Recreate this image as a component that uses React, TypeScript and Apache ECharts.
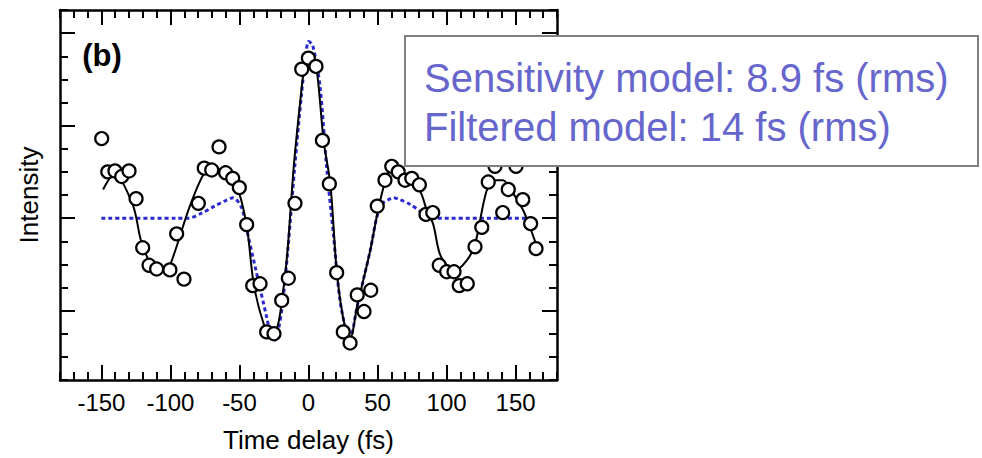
import React, { useEffect, useRef } from 'react';
import * as echarts from 'echarts';

const xTitle = 'Time delay (fs)';
const yTitle = 'Intensity';
const panelLabel = '(b)';
const annotationLines = ['Sensitivity model: 8.9 fs (rms)', 'Filtered model: 14 fs (rms)'];

const xMajorTicks = [-150, -100, -50, 0, 50, 100, 150];
const yMajorTicks = [-1, 0, 1, 2];

// measured points (open circles)
const measuredX = [
  -149.8, -145.4, -140.2, -135.3, -130.0, -124.9, -120.1, -115.5, -110.0, -100.4, -95.5, -90.2,
  -79.8, -75.5, -70.1, -64.8, -60.0, -54.9, -50.1, -44.8, -40.4, -35.1, -30.3, -25.0, -19.4, -14.6, -9.8,
  -4.9, -0.1, 5.4, 10.1, 15.1, 20.4, 25.2, 30.1, 35.3, 40.2, 45.1, 49.8, 55.4, 60.3, 65.0, 69.9, 74.8, 80.3, 85.1, 90.0,
  94.7, 100.1, 105.4, 109.2, 115.0, 120.6, 125.5, 130.2, 135.1, 140.7, 144.7, 150.3, 155.2, 160.9, 164.8,
];
const measuredY = [
  0.86, 0.5, 0.51, 0.45, 0.51, 0.21, -0.32, -0.51, -0.55, -0.56, -0.17, -0.66,
  0.16, 0.54, 0.52, 0.77, 0.49, 0.43, 0.33, -0.07, -0.73, -0.71, -1.23, -1.25, -0.89, -0.65, 0.16,
  1.61, 1.73, 1.64, 0.84, 0.37, -0.59, -1.23, -1.35, -0.83, -1.01, -0.78, 0.13, 0.41, 0.56, 0.5, 0.41, 0.43, 0.36, 0.04, 0.06,
  -0.51, -0.58, -0.58, -0.73, -0.71, -0.31, -0.1, 0.39, 0.56, 0.06, 0.31, 0.56, 0.2, -0.06, -0.33,
];

// sensitivity model (solid black)
const fitX = [
  -148.8, -140.5, -127.2, -121.2, -114, -106.8, -102, -97.4, -86.4, -75.8, -68.5, -63.5, -54.8, -49, -44.2, -39.7,
  -32.5, -27.4, -22.6, -19, -15.4, -10.6, -5.8, -3.4, 0.2, 5, 11, 15.9, 20.7, 26.7, 30.3, 35.1, 44.7, 50.7, 56.8,
  62, 68.5, 80.8, 85.6, 90.4, 95.2, 102.5, 106, 114.5, 120.5, 128.9, 134.9, 140.9, 148.1, 155.3, 160.2, 165,
];
const fitY = [
  0.31, 0.48, 0.14, -0.25, -0.5, -0.57, -0.55, -0.39, 0.11, 0.48, 0.56, 0.52, 0.43, 0.21, -0.14, -0.71,
  -1.14, -1.25, -1.18, -0.86, -0.39, 0.57, 1.29, 1.58, 1.75, 1.7, 0.83, 0.36, -0.61, -1.2, -1.29, -0.96, -0.35, 0.11, 0.46,
  0.59, 0.5, 0.29, 0.09, -0.07, -0.39, -0.55, -0.57, -0.46, -0.29, 0.29, 0.41, 0.41, 0.27, 0.09, -0.09, -0.29,
];

// filtered model (blue dotted)
const filteredX = [
  -150, -96, -87, -78, -68, -60, -54.5, -48.4, -44.7, -37.5, -30.3, -27, -24.5, -22, -19, -15, -10, -5, -2, 0, 3,
  8.3, 13.2, 18, 22.8, 27.7, 30, 35, 40, 45, 49, 53, 58, 61.4, 66, 73.5, 84.4, 92, 160,
];
const filteredY = [
  0, 0, 0.0, 0.05, 0.13, 0.19, 0.22, 0.11, -0.13, -0.6, -1.07, -1.28, -1.32, -1.22, -0.95, -0.35, 0.55, 1.35, 1.75, 1.91, 1.87,
  1.43, 0.54, -0.17, -0.89, -1.24, -1.3, -0.97, -0.65, -0.33, -0.02, 0.15, 0.2, 0.22, 0.2, 0.15, 0.04, 0, 0,
];

const FONT = 'Liberation Sans, Arial, Helvetica, sans-serif';
const zip = (a: number[], b: number[]) => a.map((v, i) => [v, b[i]]);

function xAx(pos: 'top' | 'bottom', major: boolean) {
  const showLabel = major && pos === 'bottom';
  return {
    type: 'value',
    position: pos,
    min: -180,
    max: 180,
    interval: 10,
    name: showLabel ? xTitle : '',
    nameLocation: 'middle',
    nameGap: 47,
    nameTextStyle: { fontSize: 26, color: '#000', fontFamily: FONT },
    axisLine: { show: !major, onZero: false, lineStyle: { color: '#000', width: 2.5 } },
    axisTick: major
      ? { show: true, inside: true, length: 15, customValues: xMajorTicks, lineStyle: { color: '#000', width: 2 } }
      : { show: true, inside: true, length: 8, lineStyle: { color: '#000', width: 2 } },
    axisLabel: showLabel
      ? { show: true, customValues: xMajorTicks, fontSize: 24, color: '#000', fontFamily: FONT, margin: 10 }
      : { show: false },
    splitLine: { show: false },
  };
}

function yAx(pos: 'left' | 'right', major: boolean) {
  const showName = major && pos === 'left';
  return {
    type: 'value',
    position: pos,
    min: -1.75,
    max: 2.25,
    interval: 0.25,
    name: showName ? yTitle : '',
    nameLocation: 'middle',
    nameGap: 18,
    nameRotate: 90,
    nameTextStyle: { fontSize: 26, color: '#000', fontFamily: FONT },
    axisLine: { show: !major, onZero: false, lineStyle: { color: '#000', width: 2.5 } },
    axisTick: major
      ? { show: true, inside: true, length: 15, customValues: yMajorTicks, lineStyle: { color: '#000', width: 2 } }
      : { show: true, inside: true, length: 8, lineStyle: { color: '#000', width: 2 } },
    axisLabel: { show: false },
    splitLine: { show: false },
  };
}

export default function App() {
  const ref = useRef<HTMLDivElement>(null);
  useEffect(() => {
    if (!ref.current) return;
    const chart = echarts.init(ref.current, undefined, { renderer: 'svg' });
    chart.setOption({
      animation: false,
      backgroundColor: '#fff',
      grid: { left: 60, top: 10, width: 497, height: 374, containLabel: false },
      xAxis: [xAx('bottom', false), xAx('bottom', true), xAx('top', false), xAx('top', true)],
      yAxis: [yAx('left', false), yAx('left', true), yAx('right', false), yAx('right', true)],
      series: [
        {
          name: 'Filtered model',
          type: 'line',
          data: zip(filteredX, filteredY),
          symbol: 'none',
          smooth: 0.3,
          lineStyle: { color: '#2a2ad0', width: 3, type: [4, 3] },
          z: 3,
        },
        {
          name: 'Sensitivity model',
          type: 'line',
          data: zip(fitX, fitY),
          symbol: 'none',
          smooth: 0.3,
          lineStyle: { color: '#000', width: 2 },
          z: 4,
        },
        {
          name: 'Measured',
          type: 'scatter',
          data: zip(measuredX, measuredY),
          symbol: 'circle',
          symbolSize: 13,
          itemStyle: { color: '#fff', borderColor: '#000', borderWidth: 2.2, opacity: 1 },
          z: 5,
        },
      ],
      graphic: [
        {
          type: 'text',
          x: 102,
          y: 55,
          z: 50,
          style: { text: panelLabel, fontSize: 31, fontWeight: 'bold', fontFamily: FONT, fill: '#000', align: 'center', verticalAlign: 'middle' },
        },
        {
          type: 'rect',
          z: 100,
          shape: { x: 405, y: 36, width: 573, height: 130 },
          style: { fill: '#fff', stroke: '#808080', lineWidth: 2 },
        },
        {
          type: 'text',
          x: 424,
          y: 78,
          z: 101,
          style: { text: annotationLines[0], fontSize: 40, fontFamily: FONT, fill: '#6666cc', align: 'left', verticalAlign: 'middle' },
        },
        {
          type: 'text',
          x: 424,
          y: 127,
          z: 101,
          style: { text: annotationLines[1], fontSize: 40, fontFamily: FONT, fill: '#6666cc', align: 'left', verticalAlign: 'middle' },
        },
      ],
    });
    return () => chart.dispose();
  }, []);
  return <div ref={ref} style={{ position: 'fixed', left: 0, top: 0, width: 982, height: 458 }} />;
}
